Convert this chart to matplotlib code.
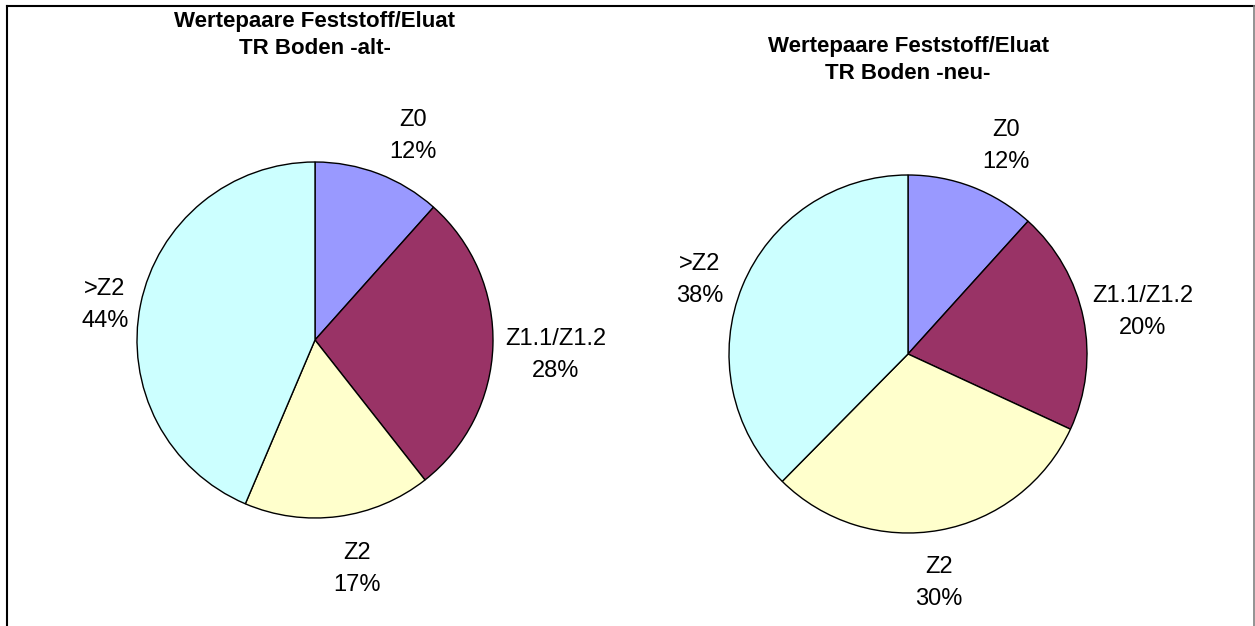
import numpy as np
import matplotlib
matplotlib.use("Agg")
import matplotlib.pyplot as plt
from matplotlib.lines import Line2D

plt.rcParams['font.family'] = ['Liberation Sans', 'DejaVu Sans']

# data (percent shares)
categories = ['Z0', 'Z1.1/Z1.2', 'Z2', '>Z2']
alt_values = [11.6, 27.8, 17.0, 43.6]
neu_values = [11.7, 20.2, 30.5, 37.6]
alt_labels = ['12%', '28%', '17%', '44%']
neu_labels = ['12%', '20%', '30%', '38%']
colors = ['#9999FF', '#993366', '#FFFFCC', '#CCFFFF']

# label placement in pie-radius units (layout only)
alt_label_pos = [(0.551, 1.146), (1.354, -0.084), (0.236, -1.287), (-1.180, 0.196)]
neu_label_pos = [(0.547, 1.162), (1.313, 0.234), (0.173, -1.280), (-1.162, 0.413)]

W, H = 1255, 626
fig = plt.figure(figsize=(W / 100, H / 100), dpi=100)


def draw_pie(cx, cy, r, values, pct, label_pos, title, ty):
    # axes placed in pixel terms, pie radius 1 fills it
    ax = fig.add_axes([(cx - r) / W, (H - cy - r) / H, 2 * r / W, 2 * r / H])
    wedges, _ = ax.pie(values, colors=colors, startangle=90, counterclock=False,
                       radius=1, wedgeprops=dict(edgecolor='black', linewidth=1))
    ax.set_xlim(-1, 1)
    ax.set_ylim(-1, 1)
    ax.set_aspect('equal')
    ax.axis('off')
    for cat, p, (lx, ly) in zip(categories, pct, label_pos):
        ax.text(lx, ly, f'{cat}\n{p}', ha='center', va='center',
                fontsize=17, linespacing=1.55, clip_on=False)
    fig.text(cx / W, 1 - ty / H, title, ha='center', va='center', fontsize=16,
             fontweight='bold', linespacing=1.32)


draw_pie(315, 340, 178, alt_values, alt_labels, alt_label_pos,
         'Wertepaare Feststoff/Eluat\nTR Boden -alt-', 35)
draw_pie(908, 354, 179, neu_values, neu_labels, neu_label_pos,
         'Wertepaare Feststoff/Eluat\nTR Boden -neu-', 60)

# frame around the chart area (no bottom edge visible)
fig.add_artist(Line2D([6.5 / W, 1], [1 - 5.5 / H, 1 - 5.5 / H], color='black', lw=1.5))
fig.add_artist(Line2D([6.5 / W, 6.5 / W], [0, 1 - 5.5 / H], color='black', lw=1.5))
fig.add_artist(Line2D([1254 / W, 1254 / W], [0, 1 - 5.5 / H], color='#808080', lw=1.2))

fig.savefig('out.png', dpi=100)
